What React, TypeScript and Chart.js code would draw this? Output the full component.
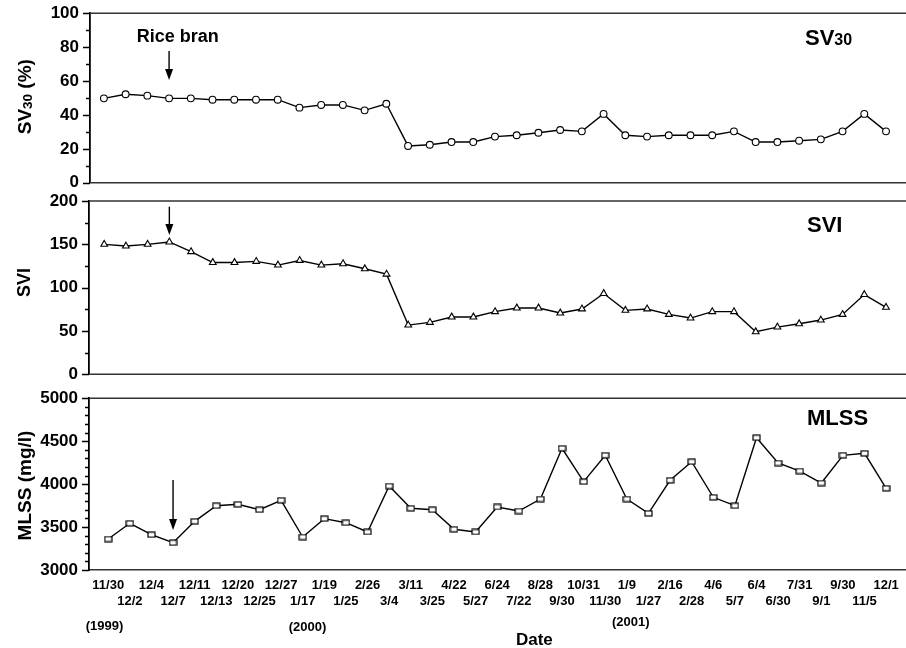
import React, { useEffect, useRef } from 'react';
import { Chart, registerables } from 'chart.js';

Chart.register(...registerables);

const FONT = '"Liberation Sans", Arial, Helvetica, sans-serif';

// ---- data ----
const dates = [
  '11/30', '12/2', '12/4', '12/7', '12/11', '12/13', '12/20', '12/25', '12/27', '1/17',
  '1/19', '1/25', '2/26', '3/4', '3/11', '3/25', '4/22', '5/27', '6/24', '7/22',
  '8/28', '9/30', '10/31', '11/30', '1/9', '1/27', '2/16', '2/28', '4/6', '5/7',
  '6/4', '6/30', '7/31', '9/1', '9/30', '11/5', '12/1',
];

const sv30 = [
  49.8, 52.2, 51.4, 49.8, 49.8, 49.0, 49.0, 49.0, 49.0, 44.3,
  45.9, 45.9, 42.7, 46.6, 21.7, 22.4, 24.0, 24.0, 27.2, 28.0,
  29.5, 31.1, 30.3, 40.6, 28.0, 27.2, 28.0, 28.0, 28.0, 30.3,
  24.0, 24.0, 24.8, 25.6, 30.3, 40.6, 30.3,
];

const svi = [
  150, 148, 150, 152.7, 141.5, 129, 129, 130.3, 126, 131.4,
  126, 127.6, 121.8, 115.6, 56.8, 59.9, 66.1, 66.1, 72.3, 76.5,
  76.5, 70.7, 75.4, 93.2, 73.8, 75.4, 69.1, 64.9, 72.3, 72.3,
  49.1, 54.5, 58.3, 62.6, 69.1, 92, 77.3,
];

const mlss = [
  3361, 3544, 3411, 3318, 3567, 3749, 3765, 3702, 3812, 3384,
  3598, 3551, 3443, 3978, 3719, 3702, 3474, 3443, 3734, 3687,
  3827, 4418, 4029, 4336, 3827, 3660, 4045, 4261, 3847, 3749,
  4541, 4246, 4153, 4013, 4336, 4359, 3952,
];

const sv30Ticks = { min: 0, max: 100, minor: 10, major: 20 };
const sviTicks = { min: 0, max: 200, minor: 25, major: 50 };
const mlssTicks = { min: 3000, max: 5000, minor: 100, major: 500 };

const years = ['(1999)', '(2000)', '(2001)'];

// ---- helpers ----
type Piece = { t: string; s: number; dy?: number };

function font(size: number) {
  return `bold ${size}px ${FONT}`;
}

function drawPieces(ctx: CanvasRenderingContext2D, pieces: Piece[], x: number, y: number, align: 'left' | 'center') {
  let total = 0;
  for (const p of pieces) {
    ctx.font = font(p.s);
    total += ctx.measureText(p.t).width;
  }
  let cx = align === 'center' ? x - total / 2 : x;
  ctx.textAlign = 'left';
  ctx.textBaseline = 'alphabetic';
  for (const p of pieces) {
    ctx.font = font(p.s);
    ctx.fillText(p.t, cx, y + (p.dy || 0));
    cx += ctx.measureText(p.t).width;
  }
}

function makeRectMarker(w: number, h: number) {
  const c = document.createElement('canvas');
  c.width = w + 2;
  c.height = h + 2;
  const ctx = c.getContext('2d')!;
  ctx.fillStyle = '#fff';
  ctx.fillRect(1, 1, w, h);
  ctx.strokeStyle = '#000';
  ctx.lineWidth = 1.2;
  ctx.strokeRect(1, 1, w, h);
  return c;
}

type Spec = {
  values: number[];
  ticks: { min: number; max: number; minor: number; major: number };
  xMin: number;
  xMax: number;
  axisWidth: number;
  padTop: number;
  padBottom: number;
  showX: boolean;
  pointStyle: any;
  radius: number;
  title: Piece[];
  titleY: number;
  titleSize: number;
  label: Piece[];
  labelX: number;
  labelY: number;
  arrowIndex: number;
  arrowY1: number;
  arrowY2: number;
  texts: { t: string; s: number; xi: number; y: number }[];
};

function buildChart(canvas: HTMLCanvasElement, sp: Spec) {
  const decor = {
    id: 'decor',
    afterDraw(chart: any) {
      const ctx: CanvasRenderingContext2D = chart.ctx;
      const area = chart.chartArea;
      const ys = chart.scales.y;
      const xs = chart.scales.x;
      ctx.save();
      // top & bottom frame lines
      ctx.strokeStyle = '#333';
      ctx.lineWidth = 1.6;
      ctx.beginPath();
      ctx.moveTo(area.left, area.top);
      ctx.lineTo(area.right + 5, area.top);
      if (!sp.showX) {
        ctx.moveTo(area.left, area.bottom);
        ctx.lineTo(area.right + 5, area.bottom);
      }
      ctx.stroke();
      // y tick marks (major / minor)
      ctx.strokeStyle = '#000';
      ctx.lineWidth = 1.3;
      ctx.beginPath();
      for (const tk of ys.ticks) {
        const v = tk.value;
        const isMajor = Math.abs(v / sp.ticks.major - Math.round(v / sp.ticks.major)) < 1e-6;
        const py = Math.round(ys.getPixelForValue(v)) + 0.5;
        const len = isMajor ? 7 : 4;
        ctx.moveTo(area.left - len, py);
        ctx.lineTo(area.left, py);
      }
      ctx.stroke();
      ctx.fillStyle = '#000';
      // y title (rotated)
      ctx.save();
      const capHalf = (sp.titleSize * 0.716) / 2;
      ctx.translate(24 + capHalf, sp.titleY);
      ctx.rotate(-Math.PI / 2);
      drawPieces(ctx, sp.title, 0, 0, 'center');
      ctx.restore();
      // panel label
      drawPieces(ctx, sp.label, sp.labelX, sp.labelY, 'left');
      // arrow
      const ax = xs.getPixelForValue(sp.arrowIndex);
      const headH = 11;
      ctx.lineWidth = 1.4;
      ctx.beginPath();
      ctx.moveTo(ax, sp.arrowY1);
      ctx.lineTo(ax, sp.arrowY2 - headH + 1);
      ctx.stroke();
      ctx.beginPath();
      ctx.moveTo(ax - 4, sp.arrowY2 - headH);
      ctx.lineTo(ax + 4, sp.arrowY2 - headH);
      ctx.lineTo(ax, sp.arrowY2);
      ctx.closePath();
      ctx.fill();
      // extra texts
      ctx.textAlign = 'center';
      ctx.textBaseline = 'middle';
      for (const tx of sp.texts) {
        ctx.font = font(tx.s);
        ctx.fillText(tx.t, xs.getPixelForValue(tx.xi), tx.y);
      }
      ctx.restore();
    },
  };

  return new Chart(canvas, {
    type: 'line',
    data: {
      datasets: [
        {
          data: sp.values.map((v, i) => ({ x: i, y: v })),
          borderColor: '#000',
          borderWidth: 1.4,
          pointStyle: sp.pointStyle,
          pointRadius: sp.radius,
          pointBackgroundColor: '#fff',
          pointBorderColor: '#000',
          pointBorderWidth: 1.1,
          tension: 0,
          fill: false,
          clip: false as any,
        },
      ],
    },
    options: {
      responsive: false,
      animation: false,
      events: [],
      layout: { padding: { top: sp.padTop, bottom: sp.padBottom, left: 0, right: 0 } },
      plugins: { legend: { display: false }, tooltip: { enabled: false } },
      scales: {
        x: {
          type: 'linear',
          display: sp.showX,
          min: sp.xMin,
          max: sp.xMax,
          grid: { display: false, drawTicks: false },
          border: { display: true, color: '#333', width: 1.6 },
          ticks: {
            stepSize: 1,
            includeBounds: false,
            autoSkip: false,
            maxRotation: 0,
            minRotation: 0,
            padding: 8,
            color: '#000',
            font: { family: FONT, size: 13, weight: 'bold' },
            callback: (v: any) => {
              const i = Math.round(v);
              if (Math.abs(v - i) > 1e-6 || i < 0 || i >= dates.length) return '';
              return i % 2 === 0 ? [dates[i], ''] : ['', dates[i]];
            },
          },
          afterFit: (axis: any) => {
            axis.height = sp.showX ? 78 : 0;
            axis.paddingLeft = 0;
            axis.paddingRight = 0;
          },
        },
        y: {
          type: 'linear',
          position: 'left',
          min: sp.ticks.min,
          max: sp.ticks.max,
          grid: { display: false, drawTicks: false },
          border: { display: true, color: '#000', width: 1.8 },
          ticks: {
            stepSize: sp.ticks.minor,
            autoSkip: false,
            padding: 11,
            color: '#000',
            font: { family: FONT, size: 17, weight: 'bold' },
            callback: (v: any) => {
              const r = v / sp.ticks.major;
              return Math.abs(r - Math.round(r)) < 1e-6 ? String(v) : '';
            },
          },
          afterFit: (axis: any) => {
            axis.width = sp.axisWidth;
            axis.paddingTop = 0;
            axis.paddingBottom = 0;
          },
        },
      },
    } as any,
    plugins: [decor],
  });
}

export default function App() {
  const c1 = useRef<HTMLCanvasElement>(null);
  const c2 = useRef<HTMLCanvasElement>(null);
  const c3 = useRef<HTMLCanvasElement>(null);

  useEffect(() => {
    const rect = makeRectMarker(7, 5);
    const charts = [
      buildChart(c1.current!, {
        values: sv30,
        ticks: sv30Ticks,
        xMin: -0.64,
        xMax: 37.33,
        axisWidth: 90,
        padTop: 13.3,
        padBottom: 12.3,
        showX: false,
        pointStyle: 'circle',
        radius: 3.4,
        title: [{ t: 'SV', s: 19 }, { t: '30', s: 13.5, dy: 1 }, { t: ' (%)', s: 19 }],
        titleY: 96.7,
        titleSize: 19,
        label: [{ t: 'SV', s: 22 }, { t: '30', s: 16 }],
        labelX: 805,
        labelY: 45,
        arrowIndex: 3,
        arrowY1: 51,
        arrowY2: 80,
        texts: [{ t: 'Rice bran', s: 18, xi: 3.4, y: 37 }],
      }),
      buildChart(c2.current!, {
        values: svi,
        ticks: sviTicks,
        xMin: -0.7,
        xMax: 37.33,
        axisWidth: 89,
        padTop: 11,
        padBottom: 10.7,
        showX: false,
        pointStyle: 'triangle',
        radius: 3.9,
        title: [{ t: 'SVI', s: 18 }],
        titleY: 92.5,
        titleSize: 18,
        label: [{ t: 'SVI', s: 22 }],
        labelX: 807,
        labelY: 41.7,
        arrowIndex: 3,
        arrowY1: 16.7,
        arrowY2: 45,
        texts: [],
      }),
      buildChart(c3.current!, {
        values: mlss,
        ticks: mlssTicks,
        xMin: -0.89,
        xMax: 37.33,
        axisWidth: 89,
        padTop: 13.3,
        padBottom: 0,
        showX: true,
        pointStyle: rect,
        radius: 4,
        title: [{ t: 'MLSS (mg/l)', s: 19 }],
        titleY: 100.5,
        titleSize: 19,
        label: [{ t: 'MLSS', s: 22 }],
        labelX: 807,
        labelY: 40,
        arrowIndex: 3,
        arrowY1: 95,
        arrowY2: 145,
        texts: [
          { t: years[0], s: 13, xi: -0.17, y: 241 },
          { t: years[1], s: 13, xi: 9.22, y: 242.5 },
          { t: years[2], s: 13, xi: 24.18, y: 237.7 },
          { t: 'Date', s: 17, xi: 19.72, y: 255.5 },
        ],
      }),
    ];
    return () => charts.forEach((c) => c.destroy());
  }, []);

  const wrap: React.CSSProperties = {
    position: 'absolute',
    left: 0,
    top: 0,
    width: 906,
    height: 648,
    overflow: 'hidden',
    background: '#fff',
  };
  const cv = (top: number): React.CSSProperties => ({ position: 'absolute', left: 0, top, display: 'block' });

  return (
    <div style={wrap}>
      <canvas ref={c1} width={920} height={195} style={cv(0)} />
      <canvas ref={c2} width={920} height={195} style={cv(190)} />
      <canvas ref={c3} width={920} height={263} style={cv(385)} />
    </div>
  );
}
